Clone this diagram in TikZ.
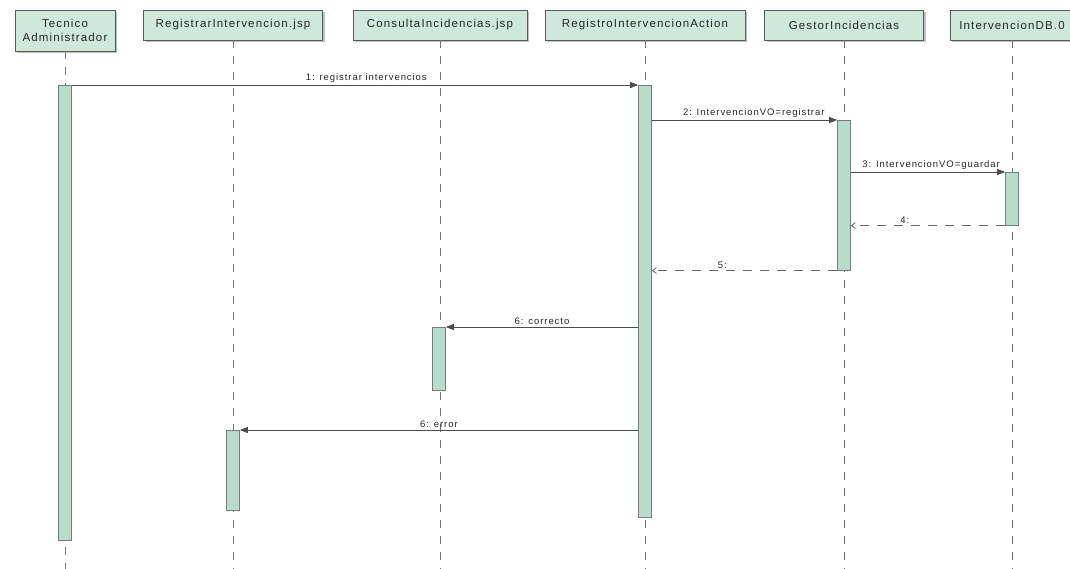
\documentclass[tikz,border=0pt]{standalone}
\usepackage{fontspec}
\setmainfont{Liberation Sans}
\newfontfamily\hdrfont[LetterSpace=10]{Liberation Sans}
\newfontfamily\msgfont[LetterSpace=10]{Liberation Sans}
\usetikzlibrary{arrows.meta,shadows}
\definecolor{hdrfill}{HTML}{CFE8DC}
\definecolor{actfill}{HTML}{B8DCCB}
\definecolor{edge}{HTML}{5A5A5A}
\tikzset{
  hdr/.style={draw=edge, fill=hdrfill, line width=0.9pt, inner sep=2pt, align=center,
    font=\hdrfont\fontsize{11.5}{14}\selectfont, text=black!85,
    drop shadow={shadow xshift=2pt, shadow yshift=-2.5pt, fill=black!35, opacity=0.7}},
  act/.style={draw=edge!80, fill=actfill, line width=0.6pt, minimum width=13pt, inner sep=0pt, anchor=north},
  life/.style={draw=black!55, line width=0.7pt, dash pattern=on 8pt off 8pt},
  call/.style={draw=black!70, line width=0.8pt, -{Triangle[length=8pt,width=6pt]}},
  ret/.style={draw=black!60, line width=0.8pt, dash pattern=on 9pt off 8pt, -{Straight Barb[length=4pt,width=6pt]}},
  lbl/.style={font=\msgfont\fontsize{9.5}{11}\selectfont, text=black!85, inner sep=2pt}
}
\begin{document}
\begin{tikzpicture}[x=1pt,y=-1pt]
\useasboundingbox (0,0) rectangle (1070,569);
\clip (0,0) rectangle (1070,569);
\fill[white] (0,0) rectangle (1070,569);
\coordinate (bot) at (0,569);
% headers
\node[hdr, minimum width=100pt, minimum height=41pt] (hT) at (65,30.5) {Tecnico\\Administrador};
\node[hdr, minimum width=179pt, minimum height=30pt] (hR) at (233,25) {RegistrarIntervencion.jsp};
\node[hdr, minimum width=174pt, minimum height=30pt] (hC) at (440,25) {ConsultaIncidencias.jsp};
\node[hdr, minimum width=200pt, minimum height=30pt] (hA) at (645,25) {RegistroIntervencionAction};
\node[hdr, minimum width=159pt, minimum height=30pt] (hG) at (844,25) {GestorIncidencias};
\node[hdr, minimum width=124pt, minimum height=30pt] (hD) at (1012,25) {IntervencionDB.0};
% lifelines
\foreach \h in {hT,hR,hC,hA,hG,hD}{
  \draw[life] (\h.south) -- (\h.south |- bot);
}
% activations
\node[act, minimum height=455pt] (aT) at (65,85) {};
\node[act, minimum height=432pt] (aA) at (645,85) {};
\node[act, minimum height=150pt] (aG) at (844,120) {};
\node[act, minimum height=53pt] (aD) at (1012,172) {};
\node[act, minimum height=63pt] (aC) at (439,327) {};
\node[act, minimum height=80pt] (aR) at (233,430) {};
% messages
\draw[call] (aT.north east) -- node[lbl, above, pos=0.52] {1: registrar intervencios} (aA.north west);
\draw[call] (aA.east |- aG.north) -- node[lbl, above, pos=0.55] {2: IntervencionVO=registrar} (aG.north west);
\draw[call] (aG.east |- aD.north) -- node[lbl, above, pos=0.52] {3: IntervencionVO=guardar} (aD.north west);
\draw[ret] (aD.south west) -- node[lbl, above, pos=0.65] {4:} (aG.east |- aD.south);
\draw[ret] (aG.south west) -- node[lbl, above, pos=0.62] {5:} (aA.east |- aG.south);
\draw[call] (aA.west |- aC.north) -- node[lbl, above, pos=0.5] {6: correcto} (aC.north east);
\draw[call] (aA.west |- aR.north) -- node[lbl, above, pos=0.5] {6: error} (aR.north east);
\end{tikzpicture}
\end{document}
